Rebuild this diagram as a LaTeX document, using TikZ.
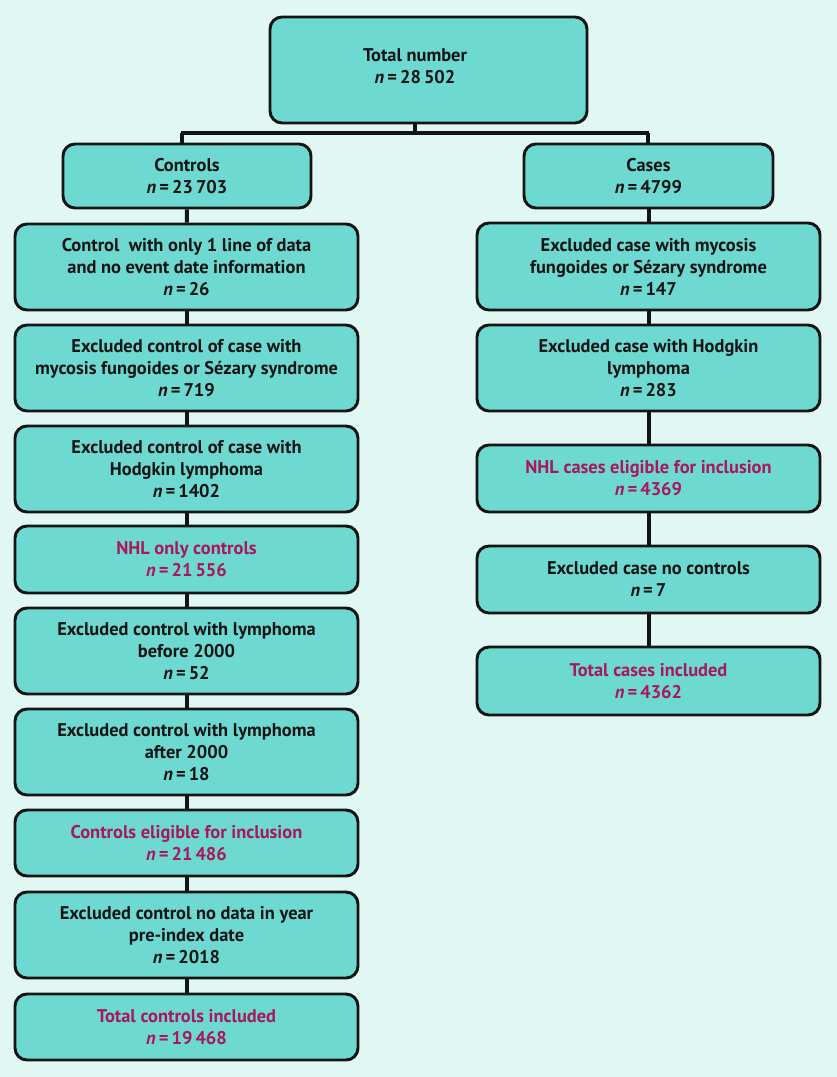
\documentclass[tikz,border=0pt]{standalone}
\usepackage{fontspec}
\setmainfont{PT Sans}
\definecolor{bgc}{HTML}{E1F7F4}
\definecolor{boxc}{HTML}{6DD9D1}
\definecolor{linec}{HTML}{141414}
\definecolor{magc}{HTML}{A8185A}
\newcommand{\nn}{\textit{n}\,=\,}
\tikzset{
  txt/.style={align=center, inner sep=0pt, font=\bfseries\fontsize{13.8}{16.5}\selectfont, text=linec},
  fbox/.style={txt, draw=linec, line width=2.2pt, fill=boxc, rounded corners=9pt},
  lbox/.style={fbox, minimum width=257.25pt},
  mag/.style={text=magc},
  conn/.style={draw=linec, line width=3pt}
}
\begin{document}
\begin{tikzpicture}[x=0.75pt,y=-0.75pt]
\useasboundingbox (0,0) rectangle (837,1077);
\fill[bgc] (0,0) rectangle (837,1077);
% top
\node[fbox, minimum width=237.75pt, minimum height=79.5pt] (top) at (428.5,70) {};
\node[txt] (toptxt) at (415,66.5) {Total number\\\nn 28\,502};
\node[fbox, minimum width=186pt, minimum height=48pt] (ctrl) at (187,176) {Controls\\\nn 23\,703};
\node[fbox, minimum width=186.75pt, minimum height=48pt] (cases) at (648.5,176) {Cases\\\nn 4799};
% left column
\node[lbox, minimum height=64.5pt] (b1) at (186.5,267) {Control\ \ with only 1 line of data\\and no event date information\\\nn 26};
\node[lbox, minimum height=64.5pt] (b2) at (186.5,368) {Excluded control of case with\\mycosis fungoides or Sézary syndrome\\\nn 719};
\node[lbox, minimum height=64.5pt] (b3) at (186.5,469) {Excluded control of case with\\Hodgkin lymphoma\\\nn 1402};
\node[lbox, minimum height=50.25pt, mag] (b4) at (186.5,559.5) {NHL only controls\\\nn 21\,556};
\node[lbox, minimum height=64.5pt] (b5) at (186.5,651) {Excluded control with lymphoma\\before 2000\\\nn 52};
\node[lbox, minimum height=64.5pt] (b6) at (186.5,752) {Excluded control with lymphoma\\after 2000\\\nn 18};
\node[lbox, minimum height=49.5pt, mag] (b7) at (186.5,843) {Controls eligible for inclusion\\\nn 21\,486};
\node[lbox, minimum height=64.5pt] (b8) at (186.5,935) {Excluded control no data in year\\pre-index date\\\nn 2018};
\node[lbox, minimum height=49.5pt, mag] (b9) at (186.5,1027) {Total controls included\\\nn 19\,468};
% right column
\node[lbox, minimum height=65.25pt] (r1) at (648.5,266.5) {Excluded case with mycosis\\fungoides or Sézary syndrome\\\nn 147};
\node[lbox, minimum height=64.5pt] (r2) at (648.5,368) {Excluded case with Hodgkin\\lymphoma\\\nn 283};
\node[lbox, minimum height=50.25pt, mag] (r3) at (648.5,478.5) {NHL cases eligible for inclusion\\\nn 4369};
\node[lbox, minimum height=50.25pt] (r4) at (648.5,579.5) {Excluded case no controls\\\nn 7};
\node[lbox, minimum height=51pt, mag] (r5) at (648.5,681) {Total cases included\\\nn 4362};
% connectors
\coordinate (tj) at (415,133);
\coordinate (lj) at (182,133);
\coordinate (rj) at (648,133);
\draw[conn] (tj |- top.south) -- (tj);
\draw[conn] ([xshift=-1.1pt]lj) -- ([xshift=1.1pt]rj);
\draw[conn] (lj) -- (lj |- ctrl.north);
\draw[conn] (rj) -- (rj |- cases.north);
\draw[conn] (ctrl) -- (b1);
\draw[conn] (b1) -- (b2);
\draw[conn] (b2) -- (b3);
\draw[conn] (b3) -- (b4);
\draw[conn] (b4) -- (b5);
\draw[conn] (b5) -- (b6);
\draw[conn] (b6) -- (b7);
\draw[conn] (b7) -- (b8);
\draw[conn] (b8) -- (b9);
\draw[conn] (cases) -- (r1);
\draw[conn] (r1) -- (r2);
\draw[conn] (r2) -- (r3);
\draw[conn] (r3) -- (r4);
\draw[conn] (r4) -- (r5);
\end{tikzpicture}
\end{document}
